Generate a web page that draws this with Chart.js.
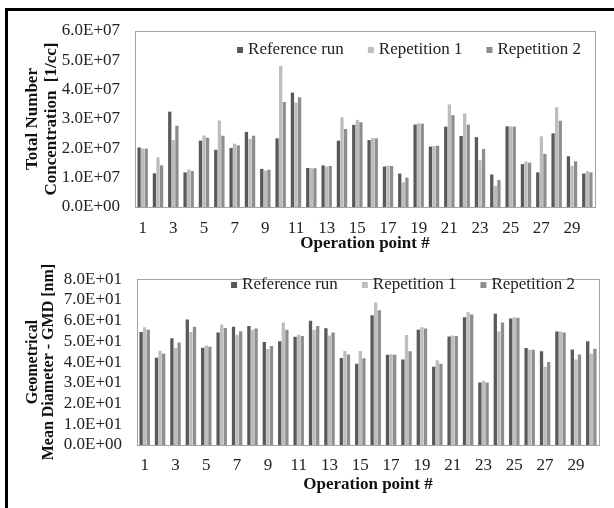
<!DOCTYPE html>
<html><head><meta charset="utf-8">
<script src="https://cdn.jsdelivr.net/npm/chart.js@4/dist/chart.umd.min.js"></script>
<style>
html,body{margin:0;padding:0;background:#fff;width:614px;height:508px;overflow:hidden;}
#frame{position:absolute;left:5px;top:8px;width:700px;height:600px;border-left:3px solid #000;border-top:3px solid #000;}
canvas{position:absolute;left:0;}
</style></head><body>
<div id="frame"></div>
<canvas id="cTop" width="614" height="254" style="top:0px"></canvas>
<canvas id="cBot" width="614" height="254" style="top:254px"></canvas>
<script>
const categories = ['1','2','3','4','5','6','7','8','9','10','11','12','13','14','15','16','17','18','19','20','21','22','23','24','25','26','27','28','29','30'];
const seriesNames = ['Reference run','Repetition 1','Repetition 2'];

const refRunNumber = [2.03e7,1.15e7,3.25e7,1.18e7,2.26e7,1.95e7,2.01e7,2.56e7,1.30e7,2.34e7,3.90e7,1.33e7,1.42e7,2.26e7,2.80e7,2.28e7,1.38e7,1.14e7,2.81e7,2.06e7,2.74e7,2.42e7,2.38e7,1.11e7,2.75e7,1.46e7,1.18e7,2.51e7,1.73e7,1.14e7];
const rep1Number   = [1.99e7,1.69e7,2.28e7,1.28e7,2.44e7,2.95e7,2.16e7,2.32e7,1.24e7,4.81e7,3.56e7,1.32e7,1.38e7,3.06e7,2.97e7,2.35e7,1.41e7,0.84e7,2.85e7,2.08e7,3.50e7,3.19e7,1.60e7,0.72e7,2.75e7,1.55e7,2.41e7,3.40e7,1.40e7,1.22e7];
const rep2Number   = [1.99e7,1.42e7,2.77e7,1.23e7,2.36e7,2.43e7,2.10e7,2.43e7,1.27e7,3.58e7,3.74e7,1.32e7,1.40e7,2.66e7,2.89e7,2.34e7,1.40e7,1.00e7,2.84e7,2.09e7,3.13e7,2.81e7,1.98e7,0.92e7,2.74e7,1.51e7,1.81e7,2.94e7,1.56e7,1.18e7];

const refRunGMD = [54.5,42.1,51.5,60.5,46.9,54.3,57.1,57.4,49.7,50.1,52.2,59.9,56.3,42.0,39.2,62.6,43.5,41.2,55.6,37.8,52.3,61.7,30.1,63.3,61.0,46.8,45.2,54.8,46.1,50.1];
const rep1GMD   = [56.8,45.5,46.8,54.5,48.0,58.2,53.2,55.6,46.3,59.1,53.2,55.6,52.8,45.4,45.4,68.7,43.8,53.1,56.8,40.9,52.8,64.0,31.0,54.8,61.7,46.0,37.8,54.8,41.2,44.0];
const rep2GMD   = [55.6,44.0,49.4,57.1,47.4,56.5,54.9,56.2,47.8,55.6,52.6,57.4,54.3,43.7,41.8,65.0,43.5,45.2,56.2,39.2,52.6,63.0,30.1,59.1,61.4,46.0,40.1,54.3,43.7,46.4];

const yTicksNumber = ['0.0E+00','1.0E+07','2.0E+07','3.0E+07','4.0E+07','5.0E+07','6.0E+07'];
const yTicksGMD = ['0.0E+00','1.0E+01','2.0E+01','3.0E+01','4.0E+01','5.0E+01','6.0E+01','7.0E+01','8.0E+01'];

const colors = ['#595959','#bdbdbd','#8e8e8e'];
const FONT = "'Liberation Serif','Times New Roman',serif";

const boxPlugin = {
  id: 'plotBox',
  afterDatasetsDraw(chart) {
    const {ctx, chartArea: a} = chart;
    ctx.save();
    ctx.strokeStyle = '#a3a3a3';
    ctx.lineWidth = 1;
    ctx.strokeRect(Math.round(a.left) + 0.5, Math.round(a.top) + 0.5, Math.round(a.right - a.left), Math.round(a.bottom - a.top));
    ctx.restore();
  }
};

const legendPlugin = {
  id: 'inLegend',
  afterDraw(chart, args, opts) {
    const ctx = chart.ctx;
    ctx.save();
    ctx.font = '17px ' + FONT;
    ctx.textBaseline = 'middle';
    ctx.textAlign = 'left';
    let x = opts.right;
    const ds = chart.data.datasets;
    for (let i = ds.length - 1; i >= 0; i--) {
      const w = ctx.measureText(ds[i].label).width;
      const tx = x - w;
      ctx.fillStyle = '#222';
      ctx.fillText(ds[i].label, tx, opts.y);
      const bx = tx - opts.textGap - opts.box;
      ctx.fillStyle = ds[i].backgroundColor;
      ctx.fillRect(bx, opts.y - opts.box / 2, opts.box, opts.box);
      x = bx - opts.gap;
    }
    ctx.restore();
  }
};

function makeChart(id, sets, yMax, yStep, yTicks, yTitle, cfg) {
  return new Chart(document.getElementById(id), {
    type: 'bar',
    data: {
      labels: categories,
      datasets: sets.map((d, i) => ({
        label: seriesNames[i], data: d, backgroundColor: colors[i],
        categoryPercentage: 0.7, barPercentage: 0.92, borderWidth: 0
      }))
    },
    options: {
      responsive: false, animation: false, devicePixelRatio: 1,
      layout: {padding: cfg.padding},
      plugins: {
        legend: {display: false}, tooltip: {enabled: false}, title: {display: false},
        inLegend: cfg.legend
      },
      scales: {
        x: {
          grid: {display: false, drawTicks: false}, border: {display: false},
          ticks: {
            autoSkip: false, maxRotation: 0, minRotation: 0, padding: cfg.xPad, color: '#222',
            font: {family: FONT, size: 17},
            callback: (v, i) => (i % 2 === 0 ? categories[i] : '')
          },
          title: {display: true, text: 'Operation point #', color: '#111',
                  font: {family: FONT, size: 17, weight: 'bold', lineHeight: 1.2}, padding: {top: 0, bottom: 0}},
          afterFit: s => { s.height = cfg.xHeight; }
        },
        y: {
          min: 0, max: yMax,
          grid: {display: false, drawTicks: false}, border: {display: false},
          ticks: {stepSize: yStep, autoSkip: false, padding: 15, color: '#222', font: {family: FONT, size: 17},
                  callback: (v, i) => yTicks[i]},
          title: {display: true, text: yTitle, color: '#111',
                  font: {family: FONT, size: cfg.yTitleSize, weight: 'bold', lineHeight: cfg.yTitleLH},
                  padding: {top: cfg.yTitlePad, bottom: 0}},
          afterFit: s => { s.width = cfg.yWidth; }
        }
      }
    },
    plugins: [boxPlugin, legendPlugin]
  });
}

makeChart('cTop', [refRunNumber, rep1Number, rep2Number], 6e7, 1e7, yTicksNumber,
  ['Total Number', 'Concentration  [1/cc]'],
  {padding: {top: 31, right: 19, left: 0, bottom: 0}, xHeight: 47, xPad: 11, yWidth: 135,
   yTitleSize: 17, yTitleLH: 1.12, yTitlePad: 23.5,
   legend: {right: 581, y: 50, gap: 24, box: 6, textGap: 5}});

makeChart('cBot', [refRunGMD, rep1GMD, rep2GMD], 80, 10, yTicksGMD,
  ['Geometrical', 'Mean Diameter - GMD [nm]'],
  {padding: {top: 16, right: 15, left: 0, bottom: 13}, xHeight: 50, xPad: 10, yWidth: 137,
   yTitleSize: 16, yTitleLH: 1.0, yTitlePad: 25,
   legend: {right: 575, y: 31, gap: 24, box: 6, textGap: 5}});
</script>
</body></html>
